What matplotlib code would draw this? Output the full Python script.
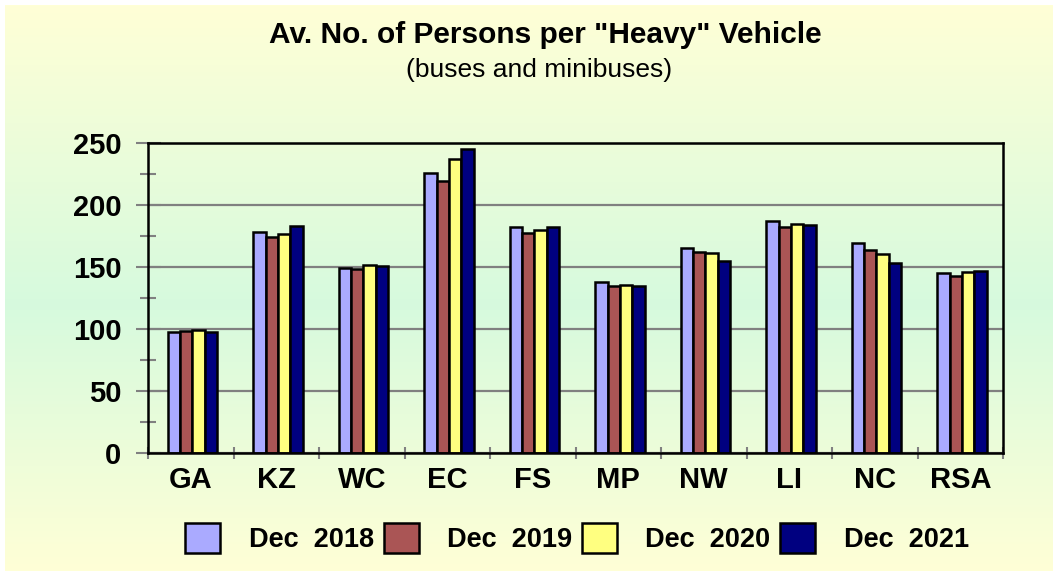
import matplotlib
matplotlib.use("Agg")
import matplotlib.pyplot as plt
import numpy as np
from matplotlib.ticker import MultipleLocator, FixedLocator

plt.rcParams["font.family"] = ["Liberation Sans", "DejaVu Sans"]

regions = ["GA", "KZ", "WC", "EC", "FS", "MP", "NW", "LI", "NC", "RSA"]
series_names = ["Dec  2018", "Dec  2019", "Dec  2020", "Dec  2021"]
dec_2018 = [97.5, 178.5, 149.5, 225.5, 182, 138, 165, 187.5, 169, 145]
dec_2019 = [98, 174.5, 148, 219, 177.5, 134.5, 162.5, 182, 163.5, 142.5]
dec_2020 = [99.5, 177, 151.5, 237, 179.5, 135.5, 161, 185, 160.5, 146]
dec_2021 = [97.5, 183, 151, 245.5, 182.5, 135, 155, 184, 153.5, 147]
colors = ["#AAAAFF", "#AA5555", "#FFFF80", "#000080"]

fig = plt.figure(figsize=(10.53, 5.71), dpi=100)
fig.patch.set_facecolor("white")

# background gradient (pale yellow -> mint -> pale yellow)
bg = fig.add_axes([5 / 1053, 0, 1 - 5 / 1053, 1 - 5 / 571], zorder=-10)
t = np.linspace(0, 1, 300)
top = np.array([1.0, 1.0, 0.84])
mid = np.array([0.84, 0.98, 0.87])
w = np.where(t < 0.53, t / 0.53, (1 - t) / 0.47)[:, None]
grad = top * (1 - w) + mid * w
bg.imshow(grad[:, None, :], aspect="auto", extent=[0, 1, 0, 1])
bg.axis("off")

ax = fig.add_axes([148 / 1053, 1 - 453 / 571, 855 / 1053, 310 / 571])
ax.patch.set_alpha(0)

x = np.arange(len(regions))
width = 0.145
for i, (vals, name) in enumerate(zip([dec_2018, dec_2019, dec_2020, dec_2021], series_names)):
    ax.bar(x + (i - 1.5) * width + 0.02, vals, width, color=colors[i],
           edgecolor="black", linewidth=1.8, label=name, zorder=3)

ax.set_xlim(-0.5, len(regions) - 0.5)
ax.set_ylim(0, 250)
ax.yaxis.set_major_locator(MultipleLocator(50))
ax.yaxis.set_minor_locator(MultipleLocator(25))
ax.grid(axis="y", which="major", color="#808080", linewidth=1.6, zorder=1)

ax.set_xticks(x)
ax.set_xticklabels(regions, fontsize=21, fontweight="bold")
ax.xaxis.set_minor_locator(FixedLocator(np.arange(-0.5, len(regions), 1.0)))
ax.tick_params(axis="x", which="major", length=0, pad=9)
ax.tick_params(axis="x", which="minor", direction="inout", length=9,
               width=1.5, color="#808080")
ax.tick_params(axis="y", which="major", direction="inout", length=18,
               width=1.5, color="#808080", labelsize=21, pad=10)
ax.tick_params(axis="y", which="minor", direction="inout", length=11,
               width=1.5, color="#808080")
for lab in ax.get_yticklabels():
    lab.set_fontweight("bold")

for s in ax.spines.values():
    s.set_color("black")
    s.set_linewidth(1.8)
    s.set_zorder(4)

fig.text(0.518, 1 - 35 / 571, 'Av. No. of Persons per "Heavy" Vehicle',
         ha="center", va="center", fontsize=21.5, fontweight="bold")
fig.text(0.512, 1 - 70 / 571, "(buses and minibuses)",
         ha="center", va="center", fontsize=19)

leg = fig.legend(loc="center", bbox_to_anchor=(0.548, 1 - 538 / 571), ncol=4,
                 frameon=False, prop={"weight": "bold", "size": 19.5},
                 handlelength=1.3, handleheight=1.3, handletextpad=1.05,
                 columnspacing=0.35)

fig.savefig("out.png", dpi=100)
